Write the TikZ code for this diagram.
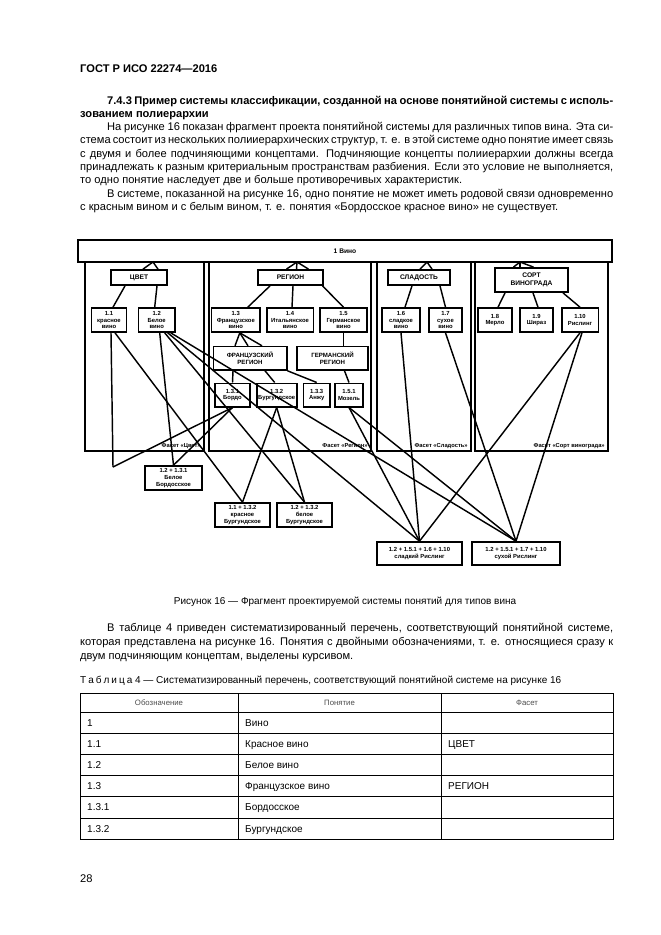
\documentclass[tikz,border=0pt]{standalone}
\usepackage{fontspec}
\setmainfont{Liberation Sans}
\usetikzlibrary{calc}

\newlength{\fullw}\setlength{\fullw}{479.7pt}
\newlength{\indw}\setlength{\indw}{455.4pt}
\newcommand{\jline}[2]{\makebox[#1][s]{#2}}

\begin{document}
\begin{tikzpicture}[x=0.9pt, y=-0.9pt,
    txt/.style={anchor=base west, inner sep=0pt},
    frame/.style={draw, line width=1.6pt, inner sep=0pt},
    facetbox/.style={frame, fill=white, align=center, minimum height=13.5pt, font=\fontsize{6}{7}\selectfont\bfseries},
    concept/.style={draw, line width=1.5pt, fill=white, inner sep=0pt, align=center, minimum height=21.6pt, font=\fontsize{5.3}{6}\selectfont\bfseries},
    link/.style={line width=1.3pt},
    facetname/.style={anchor=east, inner sep=0pt, font=\fontsize{5.2}{6}\selectfont\bfseries},
    cell/.style={anchor=base west, inner sep=0pt, font=\fontsize{9}{10}\selectfont},
    head/.style={anchor=base, inner sep=0pt, font=\fontsize{7}{8}\selectfont, text=black!70}
]
\useasboundingbox[fill=white] (0,0) rectangle (661,935);

% Page head and text
\node[txt, font=\bfseries] (gost) at (80,72) {ГОСТ Р ИСО 22274—2016};
\node[txt, font=\bfseries] (h1) at (107,104) {\jline{\indw}{7.4.3 Пример системы классификации, созданной на основе понятийной системы с исполь-}};
\node[txt, font=\bfseries] (h2) at (80,117) {зованием полиерархии};
\node[txt] (p1a) at (107,130) {\jline{\indw}{На рисунке 16 показан фрагмент проекта понятийной системы для различных типов вина. Эта си-}};
\node[txt] (p1b) at (80,143) {\jline{\fullw}{стема состоит из нескольких полииерархических структур, т. е. в этой системе одно понятие имеет связь}};
\node[txt] (p1c) at (80,157) {\jline{\fullw}{с двумя и более подчиняющими концептами. Подчиняющие концепты полииерархии должны всегда}};
\node[txt] (p1d) at (80,170) {\jline{\fullw}{принадлежать к разным критериальным пространствам разбиения. Если это условие не выполняется,}};
\node[txt] (p1e) at (80,183) {то одно понятие наследует две и больше противоречивых характеристик.};
\node[txt] (p2a) at (107,197) {\jline{\indw}{В системе, показанной на рисунке 16, одно понятие не может иметь родовой связи одновременно}};
\node[txt] (p2b) at (80,210) {с красным вином и с белым вином, т. е. понятия «Бордосское красное вино» не существует.};

% Top concept and facet columns
\node[frame, fill=white, minimum width=480.6pt, minimum height=19.8pt, font=\fontsize{6}{7}\selectfont\bfseries] (wine) at (345,251) {1 Вино};
\node[frame, minimum width=107.1pt, minimum height=170.1pt] (col1) at (144.5,356.5) {};
\node[frame, minimum width=145.8pt, minimum height=170.1pt] (col2) at (290,356.5) {};
\node[frame, minimum width=84.6pt, minimum height=170.1pt] (col3) at (424,356.5) {};
\node[frame, minimum width=119.7pt, minimum height=170.1pt] (col4) at (541.5,356.5) {};

% Facet boxes
\node[facetbox, minimum width=50.4pt] (cvet) at (139,277.5) {ЦВЕТ};
\node[facetbox, minimum width=58.5pt] (region) at (290.5,277.5) {РЕГИОН};
\node[facetbox, minimum width=55.8pt] (sweet) at (419,277.5) {СЛАДОСТЬ};
\node[facetbox, minimum width=65.7pt, minimum height=21.6pt] (grape) at (531.5,280) {СОРТ\\ВИНОГРАДА};

% Generic links up to the top concept
\coordinate (cvetTop) at (153,262);
\coordinate (regionTop) at (297,262);
\coordinate (sweetTop) at (427,262);
\coordinate (grapeTop) at (520,262);
\draw[link] ($(cvet.north)+(4,0)$) -- (cvetTop) -- ($(cvet.north)+(19,0)$);
\foreach \dx in {-4,6,18} \draw[link] (regionTop) -- ($(region.north)+(\dx,0)$);
\foreach \dx in {1,13} \draw[link] (sweetTop) -- ($(sweet.north)+(\dx,0)$);
\foreach \dx in {-18,-11.5,2} \draw[link] (grapeTop) -- ($(grape.north)+(\dx,0)$);

% Subordinate concepts
\node[concept, minimum width=31.5pt] (n11) at (109,320) {1.1\\красное\\вино};
\node[concept, minimum width=33pt] (n12) at (156.7,320) {1.2\\Белое\\вино};
\node[concept, minimum width=43.5pt] (n13) at (235.8,320) {1.3\\Французское\\вино};
\node[concept, minimum width=42pt] (n14) at (290,320) {1.4\\Итальянское\\вино};
\node[concept, minimum width=42.3pt] (n15) at (343.5,320) {1.5\\Германское\\вино};
\node[concept, minimum width=34pt] (n16) at (401,320) {1.6\\сладкое\\вино};
\node[concept, minimum width=30pt] (n17) at (445.5,320) {1.7\\сухое\\вино};
\node[concept, minimum width=30.6pt] (n18) at (495,320) {1.8\\Мерло};
\node[concept, minimum width=29.7pt] (n19) at (536.5,320) {1.9\\Шираз};
\node[concept, minimum width=33pt] (n110) at (580,320) {1.10\\Рислинг};

\draw[link] ($(cvet.south)+(-14,0)$) -- ($(n11.north)+(4,0)$);
\draw[link] ($(cvet.south)+(18,0)$) -- ($(n12.north)+(-2,0)$);
\draw[link] ($(region.south)+(-20.5,0)$) -- ($(n13.north)+(12,0)$);
\draw[link] ($(region.south)+(2.5,0)$) -- ($(n14.north)+(2,0)$);
\draw[link] ($(region.south)+(32,0)$) -- (n15.north);
\draw[link] ($(sweet.south)+(-7,0)$) -- ($(n16.north)+(4,0)$);
\draw[link] ($(sweet.south)+(21,0)$) -- (n17.north);
\draw[link] ($(grape.south)+(-26.5,0)$) -- ($(n18.north)+(3,0)$);
\draw[link] ($(grape.south)+(1.5,0)$) -- ($(n19.north)+(1.5,0)$);
\draw[link] ($(grape.south)+(31.5,0)$) -- (n110.north);

% Regions
\node[concept, minimum width=66pt, minimum height=21pt, font=\fontsize{5.5}{7}\selectfont\bfseries] (frreg) at (250,358.3) {ФРАНЦУЗСКИЙ\\РЕГИОН};
\node[concept, minimum width=64pt, minimum height=21pt, font=\fontsize{5.5}{7}\selectfont\bfseries] (dereg) at (332.5,358.3) {ГЕРМАНСКИЙ\\РЕГИОН};
\node[concept, minimum width=31.5pt, minimum height=21pt] (n131) at (232.5,395) {1.3.1\\Бордо};
\node[concept, minimum width=36pt, minimum height=21pt] (n132) at (276.7,395) {1.3.2\\Бургундское};
\node[concept, minimum width=24pt, minimum height=21pt] (n133) at (316.7,395) {1.3.3\\Анжу};
\node[concept, minimum width=25.2pt, minimum height=21pt] (n151) at (349,395) {1.5.1\\Мозель};

\coordinate (frTop) at ($(n13.south)+(4,0)$);
\foreach \dx in {-15,-2,12} \draw[link] (frTop) -- ($(frreg.north)+(\dx,0)$);
\draw[link] (n15.south) -- (n15.south |- dereg.north);
\draw[link] ($(frreg.south)+(-17,0)$) -- (n131.north);
\draw[link] ($(frreg.south)+(15,0)$) -- ($(n132.north)+(-2,0)$);
\draw[link] (frreg.south east) -- (n133.north);
\draw[link] ($(dereg.south)+(12,0)$) -- (n151.north);

% Facet names
\node[facetname] at ($(col1.south east)+(-4,-6)$) {Фасет «Цвет»};
\node[facetname] at ($(col2.south east)+(-4,-6)$) {Фасет «Регион»};
\node[facetname] at ($(col3.south east)+(-4,-6)$) {Фасет «Сладость»};
\node[facetname] at ($(col4.south east)+(-4,-6)$) {Фасет «Сорт винограда»};

% Combined concepts
\coordinate (redBordo) at (113,467);
\node[concept, minimum width=51.3pt] (wbordo) at (173.5,478) {1.2 + 1.3.1\\Белое\\Бордосское};
\node[concept, minimum width=49.5pt] (rburg) at (242.5,515) {1.1 + 1.3.2\\красное\\Бургундское};
\node[concept, minimum width=49.5pt] (wburg) at (304.5,515) {1.2 + 1.3.2\\белое\\Бургундское};
\node[concept, minimum width=76.5pt, minimum height=20.7pt] (sweetR) at (419.5,553.5) {1.2 + 1.5.1 + 1.6 + 1.10\\сладкий Рислинг};
\node[concept, minimum width=79.2pt, minimum height=20.7pt] (dryR) at (516,553.5) {1.2 + 1.5.1 + 1.7 + 1.10\\сухой Рислинг};

\draw[link] ($(n11.south)+(2,0)$) -- (redBordo);
\draw[link] ($(n11.south)+(6,0)$) -- (rburg.north);
\draw[link] ($(n12.south)+(3,0)$) -- (wbordo.north);
\draw[link] ($(n12.south)+(8,0)$) -- (wburg.north);
\draw[link] ($(n12.south)+(11,0)$) -- (sweetR.north);
\draw[link] ($(n12.south)+(14,0)$) -- (dryR.north);
\draw[link] (n131.south) -- (redBordo);
\draw[link] (n131.south) -- (wbordo.north);
\draw[link] (n132.south) -- (rburg.north);
\draw[link] (n132.south) -- (wburg.north);
\draw[link] (n151.south) -- (sweetR.north);
\draw[link] (n151.south) -- (dryR.north);
\draw[link] (n16.south) -- (sweetR.north);
\draw[link] (n17.south) -- (dryR.north);
\draw[link] (n110.south) -- (sweetR.north);
\draw[link] ($(n110.south)+(2,0)$) -- (dryR.north);

% Caption and text after the figure
\node[anchor=base, inner sep=0pt, font=\fontsize{9}{11}\selectfont] (cap) at (345,604) {Рисунок 16 — Фрагмент проектируемой системы понятий для типов вина};
\node[txt] (p3a) at (107,631) {\jline{\indw}{В таблице 4 приведен систематизированный перечень, соответствующий понятийной системе,}};
\node[txt] (p3b) at (80,645) {\jline{\fullw}{которая представлена на рисунке 16. Понятия с двойными обозначениями, т. е. относящиеся сразу к}};
\node[txt] (p3c) at (80,659) {двум подчиняющим концептам, выделены курсивом.};
\node[txt, font=\fontsize{9}{11}\selectfont] (tcap) at (80,683) {Т\kern1.8pt а\kern1.8pt б\kern1.8pt л\kern1.8pt и\kern1.8pt ц\kern1.8pt а 4 — Систематизированный перечень, соответствующий понятийной системе на рисунке 16};

% Table 4
\draw[line width=0.8pt] (80,693) rectangle (613,839);
\foreach \yy in {712,733,754.5,775.5,796.5,818} \draw[line width=0.6pt] (80,\yy) -- (613,\yy);
\foreach \xx in {238,441} \draw[line width=0.6pt] (\xx,693) -- (\xx,839);
\node[head] at (159,705) {Обозначение};
\node[head] at (339.5,705) {Понятие};
\node[head] at (527,705) {Фасет};
\foreach \num/\name/\fac [count=\i] in {1/Вино/, 1.1/Красное вино/ЦВЕТ, 1.2/Белое вино/, 1.3/Французское вино/РЕГИОН, 1.3.1/Бордосское/, 1.3.2/Бургундское/} {
    \node[cell] at (87,{726+(\i-1)*21.2}) {\num};
    \node[cell] at (245,{726+(\i-1)*21.2}) {\name};
    \node[cell] at (448,{726+(\i-1)*21.2}) {\fac};
}

\node[txt] (page) at (80,882) {28};
\end{tikzpicture}
\end{document}
